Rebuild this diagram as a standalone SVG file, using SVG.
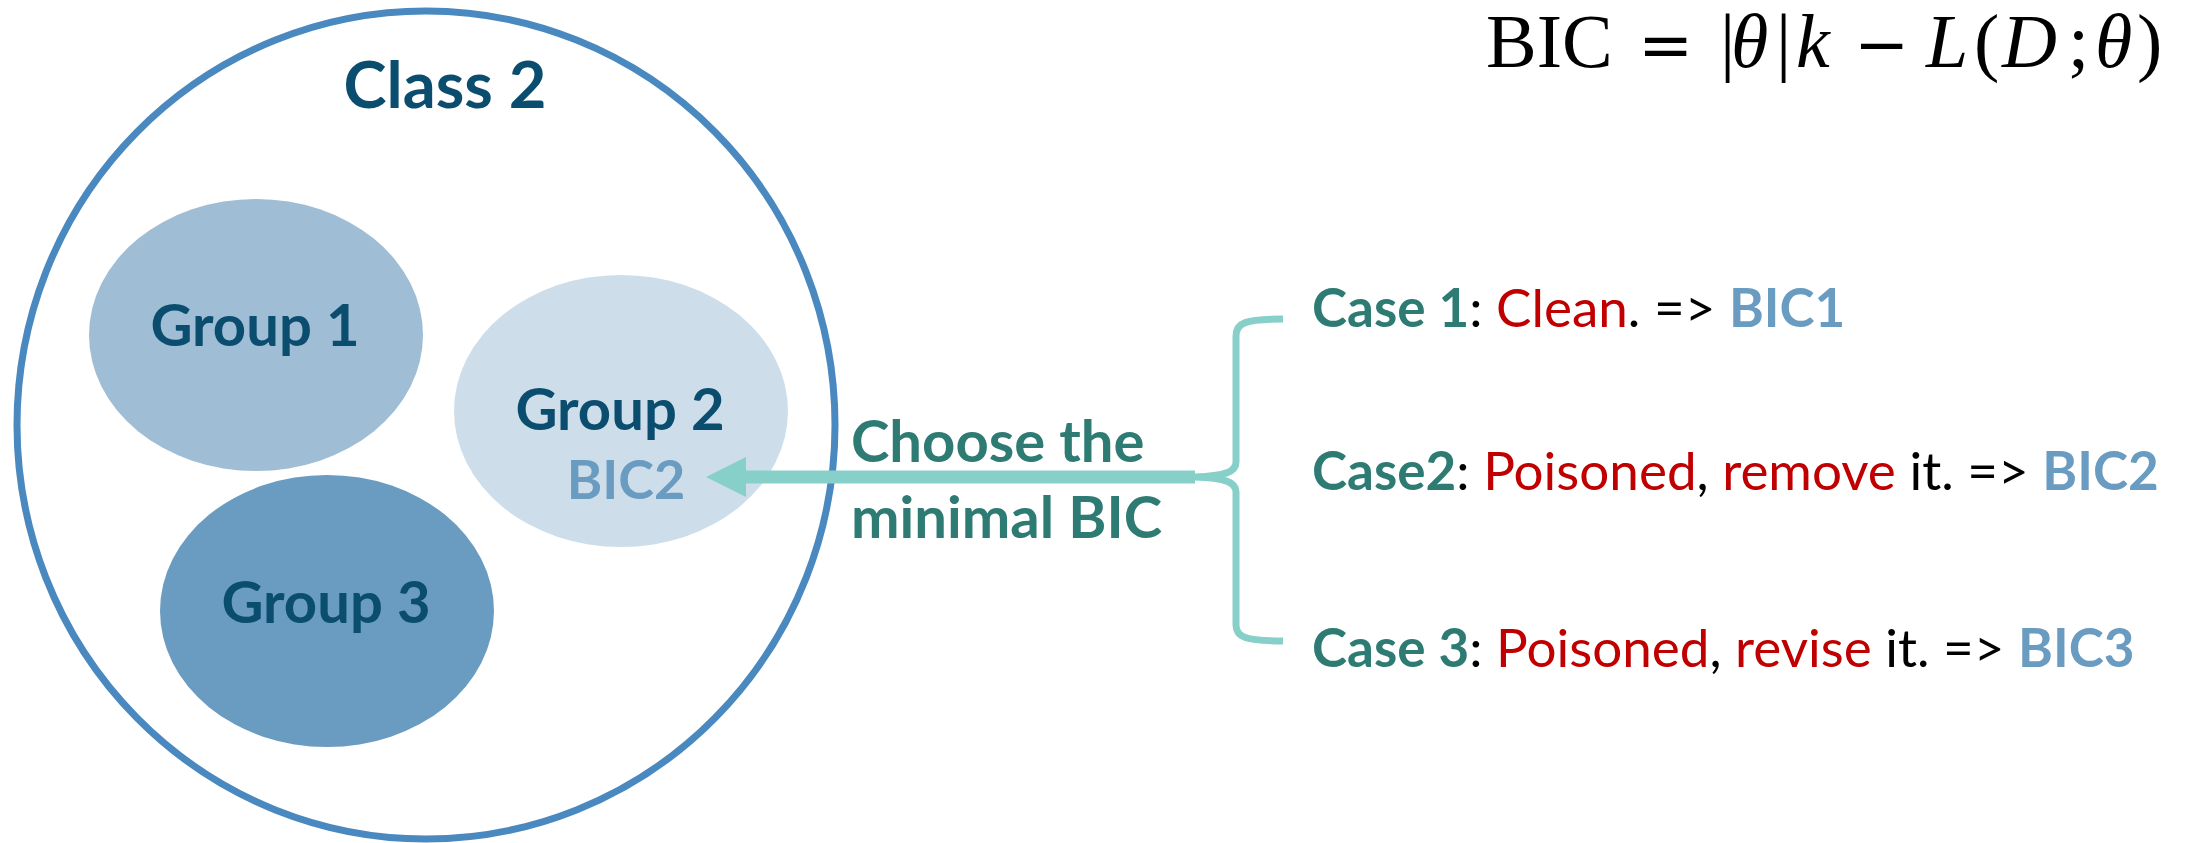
<svg xmlns="http://www.w3.org/2000/svg" width="2196" height="843" viewBox="0 0 2196 843">
  <style>
    .lbl { font-family: Lato, "Open Sans", "Liberation Sans", sans-serif; font-weight: bold; }
    .dark { fill: #0b4d6e; }
    .teal { fill: #2e7b74; }
    .steel { fill: #6a9bc0; }
    .red { fill: #c00000; }
    .blk { fill: #000000; }
    .case { font-family: Lato, "Open Sans", "Liberation Sans", sans-serif; font-size: 53px; font-weight: normal; }
    .b { font-weight: bold; }
    .math { font-family: "Liberation Serif", "DejaVu Serif", serif; font-size: 76px; fill: #000; }
    .op { font-family: "DejaVu Serif", "Liberation Serif", serif; font-size: 66px; }
    .it { font-style: italic; }
  </style>
  <rect width="2196" height="843" fill="#ffffff"/>

  <g id="class2">
    <ellipse cx="426" cy="425" rx="409" ry="414" fill="none" stroke="#4a89c0" stroke-width="7"/>
    <text class="lbl dark" x="445" y="108" font-size="65" text-anchor="middle">Class 2</text>
  </g>

  <g id="group1">
    <ellipse cx="256" cy="335" rx="167" ry="136" fill="#9fbdd4"/>
    <text class="lbl dark" x="255" y="346" font-size="58" text-anchor="middle">Group 1</text>
  </g>

  <g id="group2">
    <ellipse cx="621" cy="411" rx="167" ry="136" fill="#cddeea"/>
    <text class="lbl dark" x="620" y="430" font-size="58" text-anchor="middle">Group 2</text>
    <text class="lbl steel" x="626" y="499" font-size="54" text-anchor="middle">BIC2</text>
  </g>

  <g id="group3">
    <ellipse cx="327" cy="611" rx="167" ry="136" fill="#6a9bc0"/>
    <text class="lbl dark" x="326" y="623" font-size="58" text-anchor="middle">Group 3</text>
  </g>

  <g id="connectors" stroke="#86d0c9">
    <line x1="1195" y1="477" x2="744" y2="477" stroke-width="13" fill="none"/>
    <polygon points="706,477 746,457 746,497" fill="#86d0c9" stroke="none"/>
    <path d="M1283,319 C1245,319 1236,323 1236,336 L1236,462 C1236,472 1225,476 1195,477 C1225,478 1236,482 1236,492 L1236,625 C1236,637 1245,641 1283,641" stroke-width="7" fill="none"/>
  </g>

  <g id="choose">
    <text class="lbl teal" x="851" y="462" font-size="58">Choose the</text>
    <text class="lbl teal" x="851" y="538" font-size="58">minimal BIC</text>
  </g>

  <g id="cases">
    <text class="case" x="1312" y="327"><tspan class="teal b">Case 1</tspan><tspan class="blk">: </tspan><tspan class="red">Clean</tspan><tspan class="blk">. =&gt; </tspan><tspan class="steel b">BIC1</tspan></text>
    <text class="case" x="1312" y="490"><tspan class="teal b">Case2</tspan><tspan class="blk">: </tspan><tspan class="red">Poisoned</tspan><tspan class="blk">, </tspan><tspan class="red">remove</tspan><tspan class="blk"> it. =&gt; </tspan><tspan class="steel b">BIC2</tspan></text>
    <text class="case" x="1312" y="667"><tspan class="teal b">Case 3</tspan><tspan class="blk">: </tspan><tspan class="red">Poisoned</tspan><tspan class="blk">, </tspan><tspan class="red">revise</tspan><tspan class="blk"> it. =&gt; </tspan><tspan class="steel b">BIC3</tspan></text>
  </g>

  <g id="formula">
    <text class="math" y="67"><tspan x="1486">BIC</tspan><tspan x="1638" class="op">=</tspan><tspan x="1720">|</tspan><tspan x="1731" class="it">θ</tspan><tspan x="1776">|</tspan><tspan x="1796" class="it">k</tspan><tspan x="1854" class="op">−</tspan><tspan x="1926" class="it">L</tspan><tspan x="1974">(</tspan><tspan x="2002" class="it">D</tspan><tspan x="2068">;</tspan><tspan x="2095" class="it">θ</tspan><tspan x="2137">)</tspan></text>
  </g>
</svg>
